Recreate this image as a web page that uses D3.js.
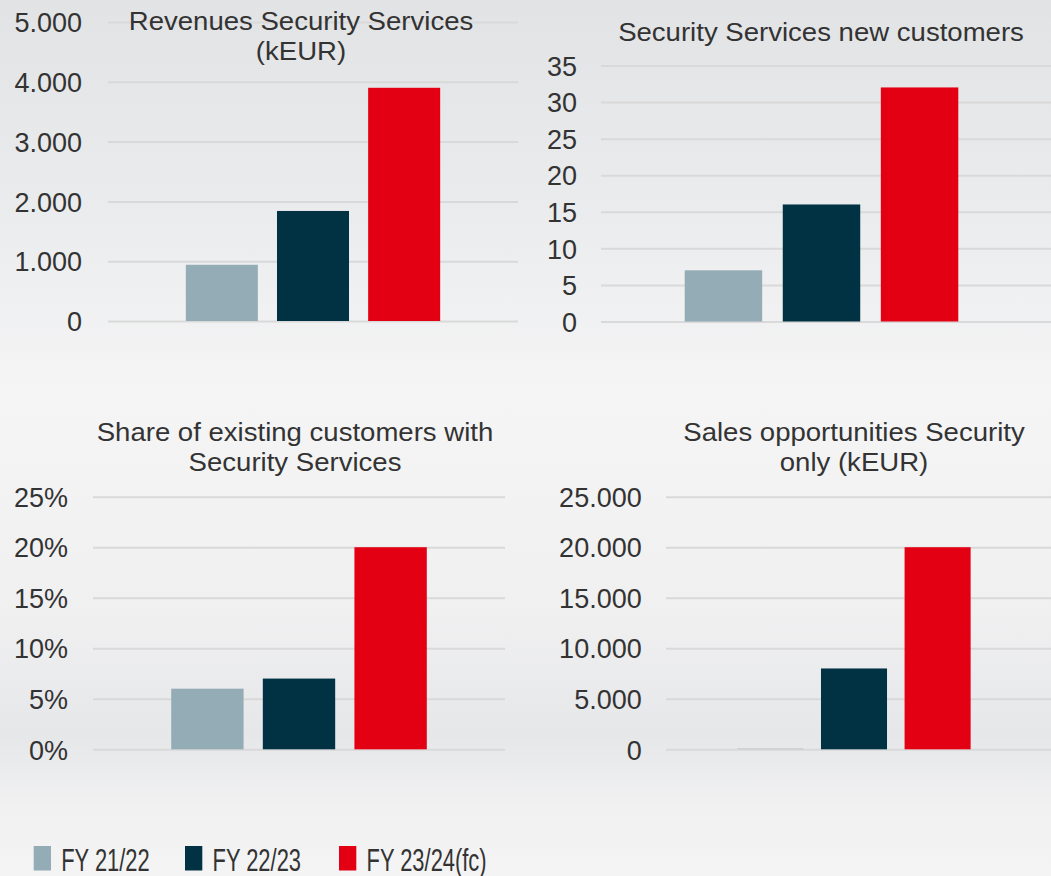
<!DOCTYPE html>
<html>
<head>
<meta charset="utf-8">
<script src="https://cdn.jsdelivr.net/npm/d3@7"></script>
<style>
  html, body { margin: 0; padding: 0; }
  body { width: 1051px; height: 876px; overflow: hidden; }
  svg text { font-family: "Liberation Sans", Arial, sans-serif; fill: #333333; }
</style>
</head>
<body>
<div id="chart"></div>
<script>
// series (legend) and colours
var series = ["FY 21/22", "FY 22/23", "FY 23/24(fc)"];
var colors = ["#94acb5", "#003244", "#e30012"];

// values per panel
var revenues = [940, 1840, 3900];
var newCustomers = [7, 16, 32];
var shareExisting = [0.06, 0.07, 0.20];
var salesOpportunities = [0, 8000, 20000];

// tick labels
var revenueTicks = [0, 1000, 2000, 3000, 4000, 5000];
var customerTicks = [0, 5, 10, 15, 20, 25, 30, 35];
var shareTicks = [0, 0.05, 0.10, 0.15, 0.20, 0.25];
var salesTicks = [0, 5000, 10000, 15000, 20000, 25000];

var de = d3.formatLocale({ decimal: ",", thousands: ".", grouping: [3], currency: ["", " €"] });
var fmtNum = de.format(",.0f");
var fmtPct = de.format(".0%");

var W = 1051, H = 876;

var svg = d3.select("#chart").append("svg")
    .attr("width", W)
    .attr("height", H);

// slide background
var defs = svg.append("defs");
var bg = defs.append("linearGradient").attr("id", "bg")
    .attr("x1", 0).attr("y1", 0).attr("x2", 0).attr("y2", 1);
bg.append("stop").attr("offset", "0%").attr("stop-color", "#e2e3e5");
bg.append("stop").attr("offset", "25%").attr("stop-color", "#ebeced");
bg.append("stop").attr("offset", "45%").attr("stop-color", "#f5f5f6");
bg.append("stop").attr("offset", "70%").attr("stop-color", "#f0f0f1");
bg.append("stop").attr("offset", "84%").attr("stop-color", "#e6e7e9");
bg.append("stop").attr("offset", "92%").attr("stop-color", "#f1f1f2");
bg.append("stop").attr("offset", "100%").attr("stop-color", "#f4f4f5");
svg.append("rect").attr("width", W).attr("height", H).attr("fill", "url(#bg)");

var panels = [
  { title: ["Revenues Security Services", "(kEUR)"], titleX: 301, titleY: 29.5,
    values: revenues, ticks: revenueTicks, fmt: fmtNum,
    x0: 108, x1: 518, gridEnd: 518, yBottom: 321, yTop: 22, pad: 26 },
  { title: ["Security Services new customers"], titleX: 821, titleY: 40.5,
    values: newCustomers, ticks: customerTicks, fmt: fmtNum,
    x0: 601, x1: 1042, gridEnd: 1051, yBottom: 321.5, yTop: 65.5, pad: 24 },
  { title: ["Share of existing customers with", "Security Services"], titleX: 295, titleY: 440.5,
    values: shareExisting, ticks: shareTicks, fmt: fmtPct,
    x0: 93, x1: 505, gridEnd: 505, yBottom: 749.3, yTop: 496.7, pad: 25 },
  { title: ["Sales opportunities Security", "only (kEUR)"], titleX: 854, titleY: 440.5,
    values: salesOpportunities, ticks: salesTicks, fmt: fmtNum,
    x0: 666, x1: 1042, gridEnd: 1051, yBottom: 749.3, yTop: 496.7, pad: 24.3 }
];

panels.forEach(function(p) {
  var g = svg.append("g");

  var y = d3.scaleLinear()
      .domain([0, d3.max(p.ticks)])
      .range([p.yBottom, p.yTop]);

  // one category, three series side by side
  var xGroup = d3.scaleBand().domain(["all"]).range([p.x0, p.x1]).paddingOuter(0.306);
  var xSeries = d3.scaleBand().domain(series)
      .range([0, xGroup.bandwidth()])
      .paddingInner(0.21).paddingOuter(0);

  var axis = d3.axisLeft(y)
      .tickValues(p.ticks)
      .tickFormat(p.fmt)
      .tickSize(-(p.gridEnd - p.x0))
      .tickPadding(p.pad);

  var ax = g.append("g")
      .attr("transform", "translate(" + p.x0 + ",0)")
      .call(axis);
  ax.select(".domain").remove();
  ax.selectAll(".tick line").attr("stroke", "#d9d9da").attr("stroke-width", 2);
  ax.selectAll(".tick text")
      .attr("font-size", "27px")
      .attr("font-family", "'Liberation Sans', Arial, sans-serif")
      .attr("fill", "#333333")
      .attr("dy", "0.36em");

  g.selectAll("rect.bar")
    .data(p.values)
    .join("rect")
      .attr("class", "bar")
      .attr("x", function(d, i) { return xGroup("all") + xSeries(series[i]); })
      .attr("width", xSeries.bandwidth())
      .attr("y", function(d) { return d > 0 ? y(d) : y(0) - 1; })
      .attr("height", function(d) { return d > 0 ? y(0) - y(d) : 1; })
      .attr("fill", function(d, i) { return d > 0 ? colors[i] : "#c9cacc"; });

  var t = g.append("text")
      .attr("text-anchor", "middle")
      .attr("font-size", "26px")
      .attr("transform", "translate(" + p.titleX + "," + p.titleY + ") scale(1.06,1)");
  t.selectAll("tspan")
    .data(p.title)
    .join("tspan")
      .attr("x", 0)
      .attr("y", function(d, i) { return i * 31; })
      .text(function(d) { return d; });
});

////////// legend //////////
var legendX = [33.7, 185, 339];
var legend = svg.append("g");
series.forEach(function(s, i) {
  var item = legend.append("g")
      .attr("transform", "translate(" + legendX[i] + ",846)");
  item.append("rect")
      .attr("width", 17.3)
      .attr("height", 24.5)
      .attr("fill", colors[i]);
  item.append("text")
      .attr("transform", "translate(27.5,24.5) scale(0.685,1)")
      .attr("font-size", "32px")
      .text(s);
});
</script>
</body>
</html>
